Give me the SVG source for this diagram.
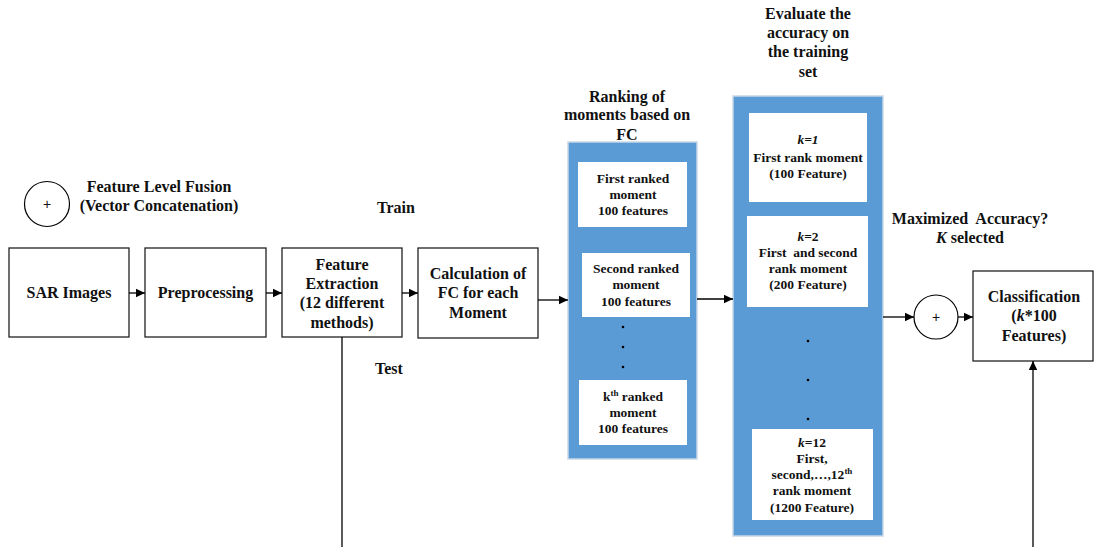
<svg xmlns="http://www.w3.org/2000/svg" width="1097" height="547" viewBox="0 0 1097 547">
  <defs>
    <marker id="arrow" markerWidth="10" markerHeight="10" refX="9" refY="5" orient="auto" markerUnits="userSpaceOnUse">
      <path d="M0,0.8 L9,5 L0,9.2 Z" fill="#000"/>
    </marker>
    <style>
      text { font-family: "Liberation Serif", "Times New Roman", serif; font-weight: bold; fill: #111; text-anchor: middle; }
      .big { font-size: 16px; }
      .small { font-size: 13.5px; }
      .box { fill: #fff; stroke: #222; stroke-width: 1.3; }
      .panel { fill: #5b9bd5; stroke: #c9d7e6; stroke-width: 1.5; }
      .inner { fill: #fff; }
      .conn { fill: none; stroke: #000; stroke-width: 1.3; }
      .circ { fill: #fff; stroke: #000; stroke-width: 1.2; }
      .plus { font-family: "Liberation Sans", Arial, sans-serif; font-weight: normal; font-size: 14px; }
      .dot { fill: #000; }
      .it { font-style: italic; }
    </style>
  </defs>

  <!-- legend: fusion operator -->
  <g id="legend">
    <circle class="circ" cx="47" cy="204" r="22.5"/>
    <text class="plus" x="47" y="209">+</text>
    <text class="big" x="159" y="192">Feature Level Fusion</text>
    <text class="big" x="159" y="211">(Vector Concatenation)</text>
  </g>

  <!-- pipeline labels -->
  <g id="labels">
    <text class="big" x="396" y="213">Train</text>
    <text class="big" x="389" y="374">Test</text>
  </g>

  <g id="sar">
    <rect class="box" x="9" y="248" width="120" height="89"/>
    <text class="big" x="69" y="298">SAR Images</text>
  </g>

  <g id="preprocessing">
    <rect class="box" x="145" y="248" width="121" height="89"/>
    <text class="big" x="205.5" y="298">Preprocessing</text>
  </g>

  <g id="feature-extraction">
    <rect class="box" x="282" y="248" width="120" height="89"/>
    <text class="big" x="342" y="270">Feature</text>
    <text class="big" x="342" y="289">Extraction</text>
    <text class="big" x="342" y="308">(12 different</text>
    <text class="big" x="342" y="328">methods)</text>
  </g>

  <g id="fc-calculation">
    <rect class="box" x="418" y="248" width="120" height="90"/>
    <text class="big" x="478" y="279">Calculation of</text>
    <text class="big" x="478" y="298">FC for each</text>
    <text class="big" x="478" y="318">Moment</text>
  </g>

  <!-- ranking panel -->
  <g id="ranking">
    <text class="big" x="627" y="102">Ranking of</text>
    <text class="big" x="627" y="120">moments based on</text>
    <text class="big" x="627" y="140">FC</text>
    <rect class="panel" x="568" y="142" width="129" height="317"/>
    <rect class="inner" x="578" y="162" width="109" height="65"/>
    <text class="small" x="633" y="183">First ranked</text>
    <text class="small" x="633" y="199">moment</text>
    <text class="small" x="633" y="215">100 features</text>
    <rect class="inner" x="582" y="253" width="108" height="64"/>
    <text class="small" x="636" y="273">Second ranked</text>
    <text class="small" x="636" y="289">moment</text>
    <text class="small" x="636" y="306">100 features</text>
    <circle class="dot" cx="623" cy="327" r="1.3"/>
    <circle class="dot" cx="623" cy="347" r="1.3"/>
    <circle class="dot" cx="623" cy="367" r="1.3"/>
    <rect class="inner" x="579" y="380" width="108" height="65"/>
    <text class="small" x="633" y="401">k<tspan font-size="9" dy="-5">th</tspan><tspan dy="5"> ranked</tspan></text>
    <text class="small" x="633" y="417">moment</text>
    <text class="small" x="633" y="433">100 features</text>
  </g>

  <!-- evaluation panel -->
  <g id="evaluation">
    <text class="big" x="808" y="19">Evaluate the</text>
    <text class="big" x="808" y="38">accuracy on</text>
    <text class="big" x="808" y="57">the training</text>
    <text class="big" x="808" y="77">set</text>
    <rect class="panel" x="733" y="96" width="150" height="440"/>
    <rect class="inner" x="749" y="113" width="118" height="89"/>
    <text class="small it" x="808" y="144">k=1</text>
    <text class="small" x="808" y="162">First rank moment</text>
    <text class="small" x="808" y="178">(100 Feature)</text>
    <rect class="inner" x="747" y="216" width="121" height="91"/>
    <text class="small" x="808" y="241"><tspan class="it">k</tspan>=2</text>
    <text class="small" x="808" y="257" xml:space="preserve">First  and second</text>
    <text class="small" x="808" y="273">rank moment</text>
    <text class="small" x="808" y="289">(200 Feature)</text>
    <circle class="dot" cx="808" cy="341" r="1.3"/>
    <circle class="dot" cx="808" cy="380" r="1.3"/>
    <circle class="dot" cx="808" cy="419" r="1.3"/>
    <rect class="inner" x="752" y="429" width="121" height="91"/>
    <text class="small" x="812" y="447"><tspan class="it">k</tspan>=12</text>
    <text class="small" x="812" y="463">First,</text>
    <text class="small" x="812" y="479">second,…,12<tspan font-size="9" dy="-5">th</tspan></text>
    <text class="small" x="812" y="495">rank moment</text>
    <text class="small" x="812" y="512">(1200 Feature)</text>
  </g>

  <g id="selection-label">
    <text class="big" x="970" y="224" xml:space="preserve">Maximized  Accuracy?</text>
    <text class="big" x="970" y="243"><tspan class="it">K</tspan> selected</text>
  </g>

  <g id="fusion">
    <circle class="circ" cx="936" cy="317" r="22"/>
    <text class="plus" x="936" y="322">+</text>
  </g>

  <g id="classification">
    <rect class="box" x="973" y="271" width="120" height="90"/>
    <text class="big" x="1034" y="302">Classification</text>
    <text class="big" x="1034" y="321">(<tspan class="it">k</tspan>*100</text>
    <text class="big" x="1034" y="341">Features)</text>
  </g>

  <!-- connectors -->
  <g id="connectors">
    <line class="conn" x1="129" y1="293" x2="145" y2="293" marker-end="url(#arrow)"/>
    <line class="conn" x1="266" y1="293" x2="282" y2="293" marker-end="url(#arrow)"/>
    <line class="conn" x1="402" y1="293" x2="418" y2="293" marker-end="url(#arrow)"/>
    <line class="conn" x1="538" y1="300" x2="568" y2="300" marker-end="url(#arrow)"/>
    <line class="conn" x1="697" y1="299" x2="733" y2="299" marker-end="url(#arrow)"/>
    <line class="conn" x1="883" y1="317" x2="914" y2="317" marker-end="url(#arrow)"/>
    <line class="conn" x1="958" y1="317" x2="973" y2="317" marker-end="url(#arrow)"/>
    <line class="conn" x1="342" y1="337" x2="342" y2="547"/>
    <line class="conn" x1="1033" y1="547" x2="1033" y2="361" marker-end="url(#arrow)"/>
  </g>
</svg>
